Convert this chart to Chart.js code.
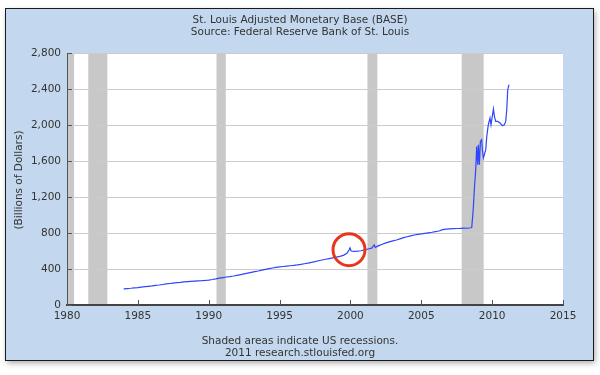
<!DOCTYPE html>
<html>
<head>
<meta charset="utf-8">
<style>
  html, body { margin: 0; padding: 0; background: #fff; }
  #wrap { width: 600px; height: 375px; }
</style>
<script src="https://cdn.jsdelivr.net/npm/chart.js@4/dist/chart.umd.min.js"></script>
</head>
<body>
<div id="wrap"><canvas id="baseChart" width="600" height="375"></canvas></div>
<script>
// data (billions of dollars)
const years = [
  1984.0, 1984.25, 1984.5, 1984.75, 1985.0, 1985.25, 1985.5, 1985.75,
  1986.0, 1986.25, 1986.5, 1986.75, 1987.0, 1987.25, 1987.5, 1987.75,
  1988.0, 1988.25, 1988.5, 1988.75, 1989.0, 1989.25, 1989.5, 1989.75,
  1990.0, 1990.25, 1990.5, 1990.75, 1991.0, 1991.25, 1991.5, 1991.75,
  1992.0, 1992.25, 1992.5, 1992.75, 1993.0, 1993.25, 1993.5, 1993.75,
  1994.0, 1994.25, 1994.5, 1994.75, 1995.0, 1995.25, 1995.5, 1995.75,
  1996.0, 1996.25, 1996.5, 1996.75, 1997.0, 1997.25, 1997.5, 1997.75,
  1998.0, 1998.25, 1998.5, 1998.75, 1999.0, 1999.25, 1999.5, 1999.75,
  1999.9, 1999.97, 2000.05, 2000.25, 2000.5, 2000.75,
  2001.0, 2001.25, 2001.5, 2001.68, 2001.75, 2002.0, 2002.25, 2002.5, 2002.75,
  2003.0, 2003.25, 2003.5, 2003.75, 2004.0, 2004.25, 2004.5, 2004.75,
  2005.0, 2005.25, 2005.5, 2005.75, 2006.0, 2006.25, 2006.5, 2006.75,
  2007.0, 2007.25, 2007.5, 2007.75, 2008.0, 2008.25, 2008.5, 2008.56,
  2008.66, 2008.75, 2008.84, 2008.91, 2008.98, 2009.03, 2009.10, 2009.17,
  2009.26, 2009.31, 2009.38, 2009.45, 2009.55, 2009.62, 2009.73, 2009.85,
  2009.92, 2010.01, 2010.09, 2010.16, 2010.25, 2010.39, 2010.56, 2010.72,
  2010.86, 2010.96, 2011.03, 2011.10, 2011.19
];
const base = [
  180, 183, 186, 190, 194, 199, 204, 208,
  212, 217, 222, 228, 234, 239, 244, 249,
  252, 256, 260, 263, 266, 268, 270, 273,
  277, 283, 290, 298, 305, 311, 316, 322,
  330, 338, 346, 354, 362, 370, 378, 388,
  396, 404, 411, 418, 423, 428, 432, 436,
  440, 445, 451, 458, 465, 473, 482, 492,
  500, 508, 516, 524, 532, 541, 552, 575,
  610, 635, 600, 596, 598, 603,
  612, 622, 632, 668, 640, 660, 675, 690, 702,
  712, 722, 735, 748, 758, 768, 778, 785,
  790, 796, 802, 808, 815, 822, 838, 842,
  845, 848, 850, 852, 855, 853, 858, 860,
  1050, 1300, 1503, 1762, 1559, 1781, 1559, 1818,
  1837, 1726, 1633, 1670, 1726, 1873, 2003, 2077,
  2003, 2096, 2178, 2096, 2040, 2040, 2022, 1992,
  2003, 2040, 2170, 2392, 2448
];
const xTicks = [1980, 1985, 1990, 1995, 2000, 2005, 2010, 2015];
const yTicks = [0, 400, 800, 1200, 1600, 2000, 2400, 2800];
const recStart = [1980.0, 1981.5, 1990.55, 2001.2, 2007.85];
const recEnd = [1980.5, 1982.85, 1991.2, 2001.9, 2009.4];

const font = "DejaVu Sans";
const textColor = "#333333";

const points = years.map((y, i) => ({ x: y, y: base[i] }));

// panel, plot background and recession shading
const framePlugin = {
  id: "frame",
  beforeDraw(chart) {
    const ctx = chart.ctx;
    const a = chart.chartArea;
    const x = chart.scales.x;
    ctx.save();
    ctx.fillStyle = "#ffffff";
    ctx.fillRect(0, 0, chart.width, chart.height);
    ctx.shadowColor = "rgba(0,0,0,0.35)";
    ctx.shadowBlur = 6;
    ctx.shadowOffsetX = 1;
    ctx.shadowOffsetY = 2;
    ctx.fillStyle = "#c3d8ee";
    ctx.fillRect(5.5, 8.5, 588, 352);
    ctx.shadowColor = "transparent";
    ctx.strokeStyle = "#1a1a1a";
    ctx.lineWidth = 1;
    ctx.strokeRect(5.5, 8.5, 588, 352);
    ctx.fillStyle = "#ffffff";
    ctx.fillRect(a.left, a.top, a.right - a.left, a.bottom - a.top);
    ctx.fillStyle = "#c8c8c8";
    for (let i = 0; i < recStart.length; i++) {
      const x0 = x.getPixelForValue(recStart[i]);
      const x1 = x.getPixelForValue(recEnd[i]);
      ctx.fillRect(x0, a.top, x1 - x0, a.bottom - a.top);
    }
    // titles
    ctx.fillStyle = textColor;
    ctx.textAlign = "center";
    ctx.textBaseline = "middle";
    ctx.font = "10.5px " + font;
    ctx.fillText("St. Louis Adjusted Monetary Base (BASE)", 300, 20);
    ctx.fillText("Source: Federal Reserve Bank of St. Louis", 300, 32);
    ctx.fillText("Shaded areas indicate US recessions.", 300, 341);
    ctx.fillText("2011 research.stlouisfed.org", 300, 353);
    ctx.translate(19, 180);
    ctx.rotate(-Math.PI / 2);
    ctx.fillText("(Billions of Dollars)", 0, 0);
    ctx.restore();
  },
  afterDatasetsDraw(chart) {
    const ctx = chart.ctx;
    const a = chart.chartArea;
    const x = chart.scales.x;
    const y = chart.scales.y;
    ctx.save();
    // small inside ticks
    ctx.strokeStyle = "#555555";
    ctx.lineWidth = 1;
    ctx.beginPath();
    yTicks.forEach(v => {
      const py = Math.round(y.getPixelForValue(v)) + 0.5;
      ctx.moveTo(a.left, py);
      ctx.lineTo(a.left + 5, py);
    });
    xTicks.forEach(v => {
      const px = Math.round(x.getPixelForValue(v)) + 0.5;
      ctx.moveTo(px, a.bottom);
      ctx.lineTo(px, a.bottom - 5);
    });
    ctx.stroke();
    // red circle around the Y2K spike
    ctx.strokeStyle = "#e8361a";
    ctx.lineWidth = 3;
    ctx.beginPath();
    ctx.arc(x.getPixelForValue(1999.9), y.getPixelForValue(615), 16, 0, Math.PI * 2);
    ctx.stroke();
    ctx.restore();
  }
};

const ctx = document.getElementById("baseChart").getContext("2d");

const baseChart = new Chart(ctx, {
  type: "line",
  data: {
    datasets: [
      {
        data: points,
        borderColor: "#2f45ff",
        borderWidth: 1.2,
        pointRadius: 0,
        tension: 0,
        fill: false,
      },
    ],
  },
  options: {
    responsive: false,
    animation: false,
    layout: {
      padding: { left: 0, right: 37, top: 53, bottom: 0 },
    },
    plugins: {
      legend: { display: false },
      tooltip: { enabled: false },
    },
    scales: {
      x: {
        type: "linear",
        min: 1980,
        max: 2015,
        afterFit: s => { s.height = 70; },
        afterBuildTicks: s => { s.ticks = xTicks.map(v => ({ value: v })); },
        ticks: {
          padding: 5,
          maxRotation: 0,
          color: textColor,
          font: { family: font, size: 10.5 },
          callback: v => String(v),
        },
        grid: { display: false, drawTicks: false },
        border: { display: true, color: "#444444", width: 2 },
      },
      y: {
        min: 0,
        max: 2800,
        afterFit: s => { s.width = 67; },
        afterBuildTicks: s => { s.ticks = yTicks.map(v => ({ value: v })); },
        ticks: {
          padding: 6,
          color: textColor,
          font: { family: font, size: 10.5 },
          callback: v => v.toLocaleString("en-US"),
        },
        grid: { color: "#cccccc", lineWidth: 1, drawTicks: false },
        border: { display: true, color: "#555555", width: 1 },
      },
    },
  },
  plugins: [framePlugin],
});
</script>
</body>
</html>
